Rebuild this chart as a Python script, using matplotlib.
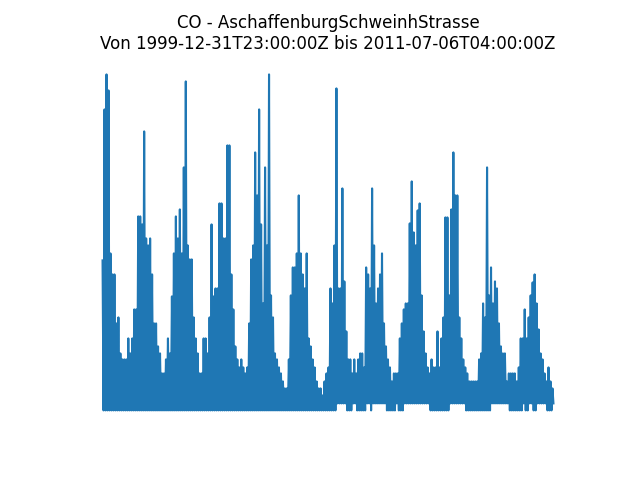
import numpy as np
import pandas as pd
import matplotlib
matplotlib.use("Agg")
import matplotlib.pyplot as plt

station = "AschaffenburgSchweinhStrasse"
component = "CO"
start = "1999-12-31T23:00:00Z"
end = "2011-07-06T04:00:00Z"

# upper envelope of the hourly CO series (mg/m3), read at regular time steps
co_peaks = [
    1.50, 3.01, 3.36, 3.20, 1.57, 1.36, 1.36, 0.87, 0.93, 0.57,
    0.51, 0.51, 0.51, 0.72, 0.57, 0.72, 1.01, 1.01, 1.94, 1.94,
    1.86, 2.79, 1.72, 1.65, 1.72, 1.36, 0.87, 0.87, 0.64, 0.57,
    0.37, 0.37, 0.51, 0.72, 0.57, 1.14, 1.57, 1.94, 1.72, 2.01,
    1.57, 2.43, 3.29, 1.65, 1.51, 1.51, 0.93, 0.72, 0.57, 0.37,
    0.37, 0.72, 0.72, 0.57, 0.93, 1.86, 1.14, 1.22, 1.22, 2.07,
    2.07, 1.72, 1.72, 2.65, 2.65, 1.36, 1.01, 0.64, 0.51, 0.43,
    0.51, 0.43, 0.37, 0.43, 0.87, 1.51, 1.65, 2.58, 2.15, 3.01,
    1.86, 1.07, 2.43, 1.65, 3.36, 1.15, 0.93, 0.57, 0.51, 0.43,
    0.37, 0.29, 0.22, 0.22, 0.51, 1.15, 1.43, 1.43, 1.57, 2.15,
    1.57, 1.36, 1.22, 1.57, 0.72, 0.64, 0.51, 0.43, 0.29, 0.22,
    0.22, 0.15, 0.29, 0.37, 0.43, 1.22, 1.07, 1.65, 3.22, 1.22,
    1.22, 2.22, 1.29, 0.79, 0.51, 0.51, 0.37, 0.51, 0.37, 0.51,
    0.57, 0.57, 0.43, 1.43, 1.36, 1.22, 2.22, 1.65, 1.07, 1.22,
    1.36, 1.57, 0.87, 0.64, 0.51, 0.43, 0.29, 0.37, 0.37, 0.37,
    0.72, 0.87, 1.01, 1.07, 1.07, 1.87, 2.29, 1.78, 1.65, 2.00,
    2.07, 1.15, 0.79, 0.57, 0.43, 0.37, 0.51, 0.43, 0.43, 0.79,
    0.43, 0.72, 0.93, 1.93, 1.93, 1.15, 2.01, 2.58, 2.15, 2.15,
    0.93, 0.72, 0.51, 0.43, 0.37, 0.29, 0.29, 0.29, 0.29, 0.29,
    0.51, 0.57, 1.07, 0.93, 2.43, 1.15, 1.43, 1.07, 1.29, 1.22,
    0.87, 0.64, 0.57, 0.57, 0.29, 0.37, 0.37, 0.37, 0.37, 0.29,
    0.43, 0.72, 0.72, 1.01, 0.72, 0.93, 1.15, 1.28, 1.36, 1.07,
    0.81, 0.57, 0.51, 0.37, 0.29, 0.43, 0.29, 0.22,
]

# lower envelope (mg/m3) between consecutive peaks
co_lows = [
    0.00, 0.00, 0.00, 0.00, 0.00, 0.00, 0.00, 0.00, 0.00, 0.00,
    0.00, 0.00, 0.00, 0.00, 0.00, 0.00, 0.00, 0.00, 0.00, 0.00,
    0.00, 0.00, 0.00, 0.00, 0.00, 0.00, 0.00, 0.00, 0.00, 0.00,
    0.00, 0.00, 0.00, 0.00, 0.00, 0.00, 0.00, 0.00, 0.00, 0.00,
    0.00, 0.00, 0.00, 0.00, 0.00, 0.00, 0.00, 0.00, 0.00, 0.00,
    0.00, 0.00, 0.00, 0.00, 0.00, 0.00, 0.00, 0.00, 0.00, 0.00,
    0.00, 0.00, 0.00, 0.00, 0.00, 0.00, 0.00, 0.00, 0.00, 0.00,
    0.00, 0.00, 0.00, 0.00, 0.00, 0.00, 0.00, 0.00, 0.00, 0.00,
    0.00, 0.00, 0.00, 0.00, 0.00, 0.00, 0.00, 0.00, 0.00, 0.00,
    0.00, 0.00, 0.00, 0.00, 0.00, 0.00, 0.00, 0.00, 0.00, 0.00,
    0.00, 0.00, 0.00, 0.00, 0.00, 0.00, 0.00, 0.00, 0.00, 0.00,
    0.00, 0.00, 0.00, 0.00, 0.00, 0.00, 0.00, 0.00, 0.07, 0.07,
    0.07, 0.07, 0.07, 0.00, 0.00, 0.00, 0.07, 0.07, 0.00, 0.00,
    0.00, 0.00, 0.00, 0.07, 0.07, 0.00, 0.07, 0.07, 0.07, 0.07,
    0.07, 0.07, 0.07, 0.00, 0.00, 0.00, 0.00, 0.00, 0.07, 0.00,
    0.00, 0.00, 0.07, 0.07, 0.07, 0.07, 0.07, 0.07, 0.07, 0.07,
    0.07, 0.07, 0.07, 0.07, 0.07, 0.00, 0.00, 0.00, 0.00, 0.00,
    0.00, 0.00, 0.00, 0.00, 0.00, 0.07, 0.07, 0.07, 0.07, 0.07,
    0.07, 0.07, 0.07, 0.00, 0.00, 0.00, 0.00, 0.00, 0.00, 0.00,
    0.00, 0.00, 0.00, 0.00, 0.00, 0.00, 0.07, 0.07, 0.07, 0.07,
    0.07, 0.07, 0.07, 0.07, 0.07, 0.00, 0.00, 0.00, 0.00, 0.00,
    0.00, 0.00, 0.07, 0.00, 0.00, 0.07, 0.07, 0.00, 0.00, 0.07,
    0.07, 0.07, 0.07, 0.07, 0.00, 0.00, 0.00, 0.07,
]

n = min(len(co_peaks), len(co_lows))
values = np.empty(2 * n)
values[0::2] = co_peaks[:n]
values[1::2] = co_lows[:n]
times = pd.date_range(pd.Timestamp(start), pd.Timestamp(end), periods=2 * n)

fig, ax = plt.subplots(figsize=(6.4, 4.8), dpi=100)
ax.plot(times, values, color="#1f77b4", linewidth=1.5)
ax.set_title(f"{component} - {station}\nVon {start} bis {end}")
ax.axis("off")
fig.savefig("out.png", dpi=100)
